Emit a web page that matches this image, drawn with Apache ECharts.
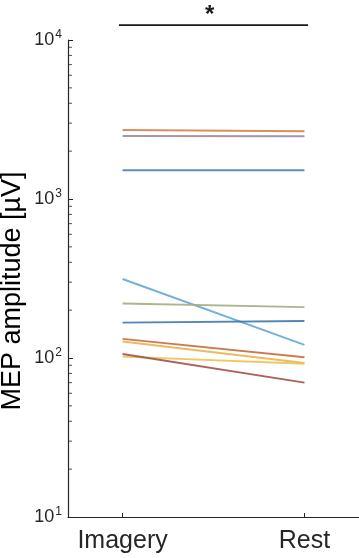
<!DOCTYPE html>
<html>
<head>
<meta charset="utf-8">
<script src="https://cdn.jsdelivr.net/npm/echarts@6/dist/echarts.min.js"></script>
<style>
  html, body { margin: 0; padding: 0; background: #fff; }
  #chart { width: 359px; height: 558px; }
</style>
</head>
<body>
<div id="chart"></div>
<script>
// conditions on the x axis (positions 1 and 2)
const conditions = ['Imagery', 'Rest']
// MEP amplitude per subject [imagery, rest], in µV
const subj1 = [2716, 2667]
const subj2 = [2490, 2480]
const subj3 = [1516, 1516]
const subj4 = [314, 121]
const subj5 = [220, 209]
const subj6 = [167, 171]
const subj7 = [132, 101]
const subj8 = [127, 93]
const subj9 = [102, 92]
const subj10 = [106, 70]
const subjects = [subj1, subj2, subj3, subj4, subj5, subj6, subj7, subj8, subj9, subj10]
const subjColors = ['#d4834a', '#9c8a9c', '#4a80b2', '#62a8d6', '#a3ad82',
  '#3d78ae', '#c96c3e', '#e9b44a', '#efc24e', '#a4504a']
// significance bar from x=0.98 to 2.02
const sigBar = [0.98, 2.02]
const sigLevel = 12400
// log-axis minor tick values
const minorTicks = [20, 30, 40, 50, 60, 70, 80, 90, 200, 300, 400, 500, 600, 700, 800, 900,
  2000, 3000, 4000, 5000, 6000, 7000, 8000, 9000]
const expLabels = { 10: '1', 100: '2', 1000: '3', 10000: '4' }

const axisColor = '#262626'
const font = "'Liberation Sans', Arial, sans-serif"

const series = subjects.map((s, i) => ({
  type: 'line',
  data: s.map((v, j) => [j + 1, v]),
  symbol: 'none',
  lineStyle: { color: subjColors[i], width: 1.9, opacity: 0.9 },
  z: 3
}))

series.push({
  type: 'line',
  data: sigBar.map((x) => [x, sigLevel]),
  symbol: 'none',
  clip: false,
  lineStyle: { color: '#1a1a1a', width: 1.6 }
})

// minor ticks on the log axis, drawn as small dashes at x = 0.7
series.push({
  type: 'scatter',
  clip: false,
  data: minorTicks.map((v) => [0.7, v]),
  symbol: 'rect',
  symbolSize: [4, 1],
  symbolOffset: [2, 0],
  itemStyle: { color: axisColor },
  silent: true,
  z: 4
})

const chart = echarts.init(document.getElementById('chart'))
chart.setOption({
  backgroundColor: '#fff',
  animation: false,
  title: {
    text: '*',
    left: 200,
    top: -2,
    textStyle: { fontSize: 24, fontWeight: 'bold', color: '#1a1a1a', fontFamily: font }
  },
  graphic: [{
    type: 'text',
    x: 13,
    y: 291,
    rotation: Math.PI / 2,
    style: {
      text: 'MEP amplitude [µV]',
      fontSize: 27,
      fontFamily: font,
      fill: '#000',
      align: 'center',
      verticalAlign: 'middle'
    }
  }],
  grid: { left: 68, right: 0, top: 40, bottom: 41, outerBoundsMode: 'none' },
  xAxis: {
    type: 'value',
    min: 0.7,
    max: 2.3,
    splitLine: { show: false },
    axisLine: { lineStyle: { color: axisColor, width: 1.2 } },
    axisTick: {
      inside: true,
      length: 4,
      customValues: [1, 2],
      lineStyle: { color: axisColor }
    },
    axisLabel: {
      customValues: [1, 2],
      formatter: (v) => conditions[Math.round(v) - 1],
      fontSize: 25,
      color: axisColor,
      fontFamily: font,
      margin: 12
    }
  },
  yAxis: {
    type: 'log',
    min: 10,
    max: 10000,
    logBase: 10,
    splitLine: { show: false },
    axisLine: { lineStyle: { color: axisColor, width: 1.2 } },
    axisTick: { inside: true, length: 5, lineStyle: { color: axisColor } },
    axisLabel: {
      margin: 6,
      formatter: (v) => '{b|10}{e|' + (expLabels[Math.round(v)] || '') + '}',
      rich: {
        b: { fontSize: 18, color: axisColor, fontFamily: font },
        e: { fontSize: 12, color: axisColor, fontFamily: font, verticalAlign: 'top', padding: [0, 0, 10, 1] }
      }
    }
  },
  series
})
</script>
</body>
</html>
